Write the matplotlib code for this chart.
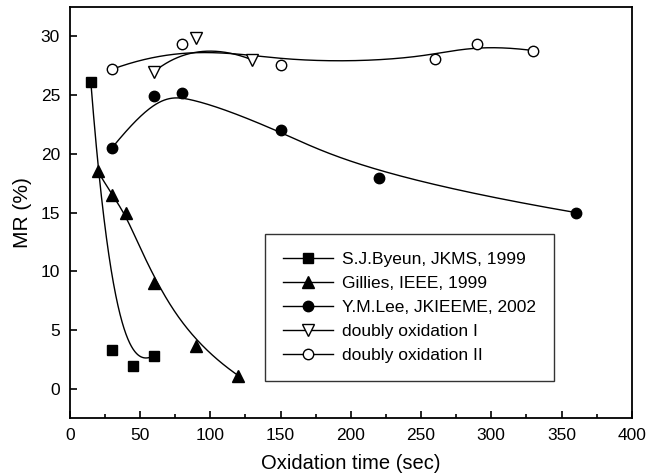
#!/usr/bin/env python3

import numpy as np
import matplotlib
matplotlib.use('Agg')
import matplotlib.pyplot as plt
from matplotlib.ticker import MultipleLocator

plt.rcParams['font.family'] = ['Liberation Sans', 'DejaVu Sans']

# данные
byeun_x = [15, 30, 45, 60]
byeun_y = [26.1, 3.3, 1.9, 2.8]

gillies_x = [20, 30, 40, 60, 90, 120]
gillies_y = [18.5, 16.5, 15.0, 9.0, 3.6, 1.1]

lee_x = [30, 60, 80, 150, 220, 360]
lee_y = [20.5, 24.9, 25.2, 22.0, 17.9, 15.0]

dox1_x = [60, 90, 130]
dox1_y = [27.0, 29.9, 28.0]

dox2_x = [30, 80, 150, 260, 290, 330]
dox2_y = [27.2, 29.4, 27.6, 28.1, 29.4, 28.8]

labels = ['S.J.Byeun, JKMS, 1999', 'Gillies, IEEE, 1999', 'Y.M.Lee, JKIEEME, 2002',
          'doubly oxidation I', 'doubly oxidation II']


def bspline(xs, ys, n=300):
    """Зажатый B-сплайн, точки данных служат контрольными (как в Origin)."""
    P = np.column_stack([xs, ys]).astype(float)
    m = len(P)
    k = min(3, m - 1)
    inner = np.linspace(0, 1, m - k + 1)
    knots = np.concatenate([np.zeros(k), inner, np.ones(k)])
    out = []
    for t in np.linspace(0, 1, n):
        if t >= 1:
            i = m - 1
        else:
            i = np.searchsorted(knots, t, side='right') - 1
        d = [P[j].copy() for j in range(i - k, i + 1)]
        for r in range(1, k + 1):
            for j in range(k, r - 1, -1):
                idx = j + i - k
                den = knots[idx + k - r + 1] - knots[idx]
                a = 0 if den == 0 else (t - knots[idx]) / den
                d[j] = (1 - a) * d[j - 1] + a * d[j]
        out.append(d[k])
    out = np.array(out)
    return out[:, 0], out[:, 1]


fig = plt.figure(figsize=(6.46, 4.76), dpi=100)
ax = fig.add_axes([0.108, 0.122, 0.870, 0.863])

series = [
    (byeun_x, byeun_y, dict(marker='s', mfc='black', ms=6.5)),
    (gillies_x, gillies_y, dict(marker='^', mfc='black', ms=8)),
    (lee_x, lee_y, dict(marker='o', mfc='black', ms=7.5)),
    (dox1_x, dox1_y, dict(marker='v', mfc='white', ms=8)),
    (dox2_x, dox2_y, dict(marker='o', mfc='white', ms=7.5)),
]

handles = []
for (x, y, st), lab in zip(series, labels):
    sx, sy = bspline(x, y)
    ax.plot(sx, sy, color='black', lw=1.0, zorder=2)
    ax.plot(x, y, ls='none', color='black', mec='black', mew=1.0, zorder=3, **st)
    h, = ax.plot([], [], color='black', lw=1.0, mec='black', mew=1.0, label=lab, **st)
    handles.append(h)

ax.set_xlim(0, 400)
ax.set_ylim(-2.5, 32.5)
ax.xaxis.set_major_locator(MultipleLocator(50))
ax.xaxis.set_minor_locator(MultipleLocator(25))
ax.yaxis.set_major_locator(MultipleLocator(5))
ax.tick_params(which='both', direction='in', top=False, right=False, labelsize=12.5, width=1.2)
ax.tick_params(which='major', length=5, pad=7)
ax.tick_params(which='minor', length=3)
for s in ax.spines.values():
    s.set_linewidth(1.3)

ax.set_xlabel('Oxidation time (sec)', fontsize=14.5, labelpad=8)
ax.set_ylabel('MR (%)', fontsize=15, labelpad=6)

leg = ax.legend(handles=handles, loc='lower left', bbox_to_anchor=(0.347, 0.090),
                borderaxespad=0, fontsize=12.5, frameon=True, fancybox=False,
                edgecolor='black', handlelength=2.9, borderpad=1.05,
                labelspacing=0.5, handletextpad=0.5)
leg.get_frame().set_linewidth(1.0)

plt.savefig('out.png', dpi=100)
